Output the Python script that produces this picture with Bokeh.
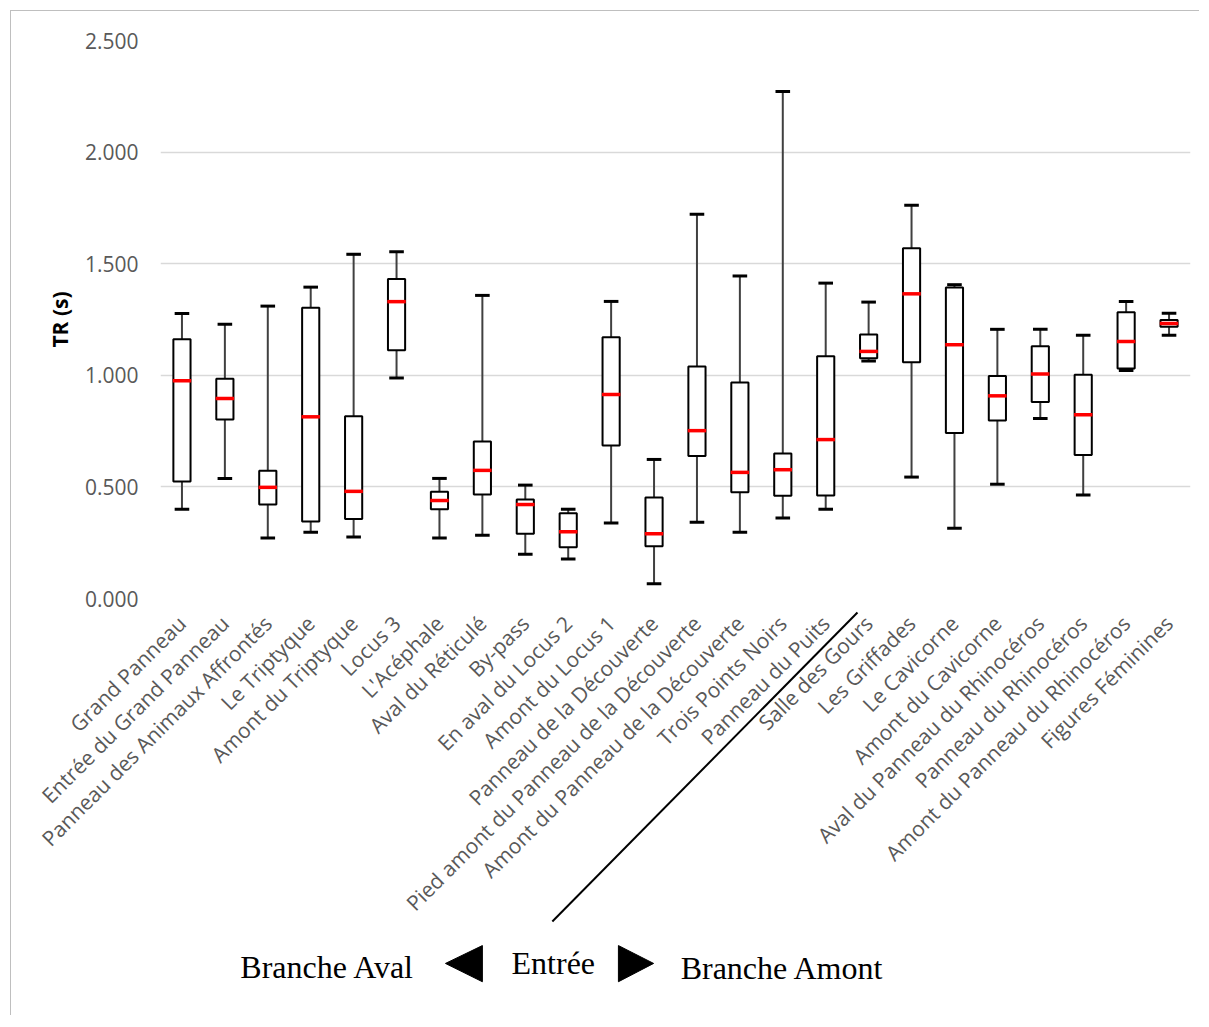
import math
from bokeh.plotting import figure
from bokeh.models import (Range1d, FactorRange, FixedTicker, NumeralTickFormatter,
                          ColumnDataSource)
from bokeh.core.properties import value
from bokeh.embed import file_html
from bokeh.resources import INLINE

categories = [
    "Grand Panneau", "Entrée du Grand Panneau", "Panneau des Animaux Affrontés",
    "Le Triptyque", "Amont du Triptyque", "Locus 3", "L'Acéphale", "Aval du Réticulé",
    "By-pass", "En aval du Locus 2", "Amont du Locus 1", "Panneau de la Découverte",
    "Pied amont du Panneau de la Découverte", "Amont du Panneau de la Découverte",
    "Trois Points Noirs", "Panneau du Puits", "Salle des Gours", "Les Griffades",
    "Le Cavicorne", "Amont du Cavicorne", "Aval du Panneau du Rhinocéros",
    "Panneau du Rhinocéros", "Amont du Panneau du Rhinocéros", "Figures Féminines",
]
whisker_low = [0.400, 0.538, 0.271, 0.297, 0.276, 0.988, 0.271, 0.283, 0.198, 0.177,
               0.338, 0.066, 0.342, 0.297, 0.361, 0.400, 1.064, 0.544, 0.315, 0.512,
               0.807, 0.464, 1.022, 1.179]
q1 = [0.524, 0.802, 0.421, 0.345, 0.356, 1.112, 0.400, 0.466, 0.290, 0.230,
      0.685, 0.234, 0.639, 0.476, 0.460, 0.462, 1.076, 1.059, 0.742, 0.797,
      0.880, 0.643, 1.030, 1.218]
median = [0.976, 0.896, 0.498, 0.814, 0.480, 1.330, 0.439, 0.574, 0.421, 0.299,
          0.914, 0.290, 0.752, 0.565, 0.577, 0.712, 1.107, 1.365, 1.137, 0.908,
          1.006, 0.823, 1.151, 1.232]
q3 = [1.161, 0.984, 0.572, 1.303, 0.816, 1.432, 0.478, 0.703, 0.443, 0.382,
      1.170, 0.453, 1.039, 0.968, 0.650, 1.085, 1.183, 1.569, 1.393, 0.997,
      1.130, 1.002, 1.282, 1.248]
whisker_high = [1.277, 1.229, 1.310, 1.395, 1.542, 1.553, 0.538, 1.358, 0.508, 0.400,
                1.331, 0.623, 1.721, 1.445, 2.272, 1.413, 1.328, 1.762, 1.406, 1.206,
                1.206, 1.179, 1.331, 1.278]
y_ticks = [0.0, 0.5, 1.0, 1.5, 2.0, 2.5]
y_label = "TR (s)"
branch_notes = ["Branche Aval", "Entrée", "Branche Amont"]

src = ColumnDataSource(dict(cat=categories, low=whisker_low, q1=q1, med=median,
                            q3=q3, high=whisker_high))

p = figure(x_range=FactorRange(*categories), y_range=Range1d(0, 2.5),
           frame_width=1030, frame_height=558,
           min_border_left=149, min_border_right=9, min_border_top=29,
           min_border_bottom=417,
           output_backend="svg", toolbar_location=None, tools="")
p.styles = {"margin-left": "10px", "margin-top": "10px",
            "border-left": "1px solid #bfbfbf", "border-top": "1px solid #bfbfbf"}
p.outline_line_color = None
p.background_fill_color = "white"
p.border_fill_color = "white"

# grid
p.xgrid.grid_line_color = None
p.ygrid.ticker = FixedTicker(ticks=y_ticks)
p.ygrid.grid_line_color = "#d9d9d9"
p.ygrid.grid_line_width = 1.5

# y axis
p.yaxis.ticker = FixedTicker(ticks=y_ticks)
p.yaxis.formatter = NumeralTickFormatter(format="0.000")
p.yaxis.axis_line_color = None
p.yaxis.major_tick_line_color = None
p.yaxis.minor_tick_line_color = None
p.yaxis.major_tick_out = 0
p.yaxis.major_label_standoff = 22
p.yaxis.major_label_text_font = "Open Sans"
p.yaxis.major_label_text_font_size = "21px"
p.yaxis.major_label_text_color = "#595959"
p.yaxis.axis_label = y_label
p.yaxis.axis_label_text_font = "Open Sans"
p.yaxis.axis_label_text_font_style = "bold"
p.yaxis.axis_label_text_font_size = "21px"
p.yaxis.axis_label_text_color = "black"
p.yaxis.axis_label_standoff = 8

# x axis
p.xaxis.axis_line_color = None
p.xaxis.major_tick_line_color = None
p.xaxis.major_tick_out = 0
p.xaxis.major_label_orientation = math.pi / 4
p.xaxis.major_label_standoff = 21
p.xaxis.major_label_text_font = "Open Sans"
p.xaxis.major_label_text_font_size = "21px"
p.xaxis.major_label_text_color = "#595959"

# whiskers
p.segment(x0="cat", y0="q3", x1="cat", y1="high", source=src,
          line_color="#404040", line_width=2)
p.segment(x0="cat", y0="q1", x1="cat", y1="low", source=src,
          line_color="#404040", line_width=2)
# boxes
p.vbar(x="cat", bottom="q1", top="q3", width=0.4, source=src,
       fill_color="white", line_color="black", line_width=2)
# medians
p.rect(x="cat", y="med", width=0.43, height=3.5, height_units="screen", source=src,
       fill_color="#ff0000", line_color=None)
# caps
p.rect(x="cat", y="high", width=0.34, height=3, height_units="screen", source=src,
       fill_color="black", line_color=None)
p.rect(x="cat", y="low", width=0.34, height=3, height_units="screen", source=src,
       fill_color="black", line_color=None)

# branch annotation below the axis (drawn at overlay level, outside the frame)
p.segment(x0=[9.13], y0=[-1.447], x1=[16.24], y1=[-0.063],
          line_color="black", line_width=2, level="overlay")
p.patch(x=[6.64, 7.50, 7.50], y=[-1.635, -1.555, -1.717],
        fill_color="black", line_color="black", line_width=1, level="overlay")
p.patch(x=[11.49, 10.67, 10.67], y=[-1.635, -1.555, -1.717],
        fill_color="black", line_color="black", line_width=1, level="overlay")
p.text(x=[1.86, 8.18, 12.12], y=[-1.653, -1.635, -1.655], text=branch_notes,
       text_font=value("Liberation Serif"), text_font_size="32px",
       text_color="black", text_baseline="alphabetic", text_align="left",
       level="overlay")

open("out.html", "w").write(file_html(p, INLINE))
